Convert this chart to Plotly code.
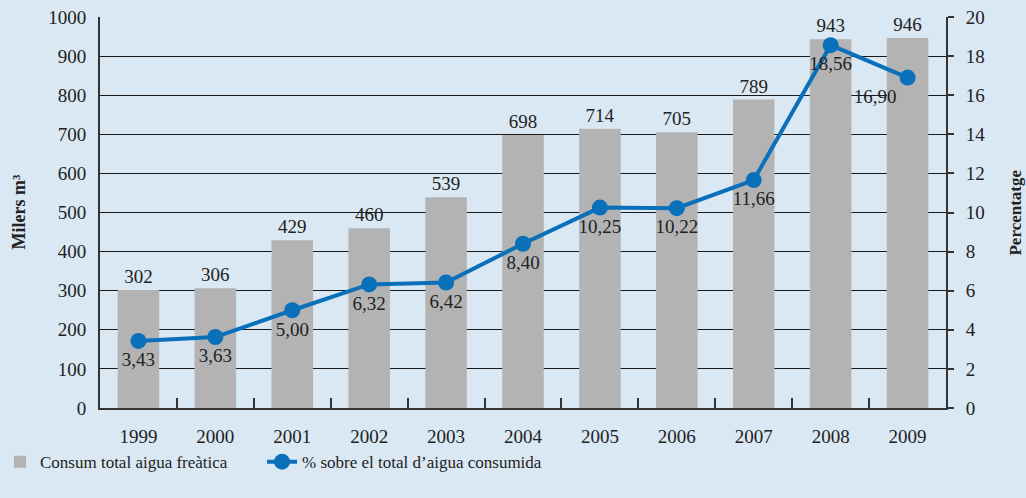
import plotly.graph_objects as go

years = ["1999", "2000", "2001", "2002", "2003", "2004", "2005", "2006", "2007", "2008", "2009"]
consum = [302, 306, 429, 460, 539, 698, 714, 705, 789, 943, 946]
percent = [3.43, 3.63, 5.00, 6.32, 6.42, 8.40, 10.25, 10.22, 11.66, 18.56, 16.90]
percent_labels = [f"{v:.2f}".replace(".", ",") for v in percent]
left_ticks = list(range(0, 1001, 100))
right_ticks = list(range(0, 21, 2))

BG = "#dae8f3"
FONT = "Liberation Serif"
TXT = "#222222"
NUM = 19

fig = go.Figure()
fig.add_trace(go.Bar(
    x=years, y=consum, name="Consum total aigua freàtica",
    marker=dict(color="#b3b3b3", line=dict(width=0)),
    width=0.54,
    text=[str(v) for v in consum], textposition="outside",
    textfont=dict(family=FONT, size=NUM, color=TXT),
    cliponaxis=False, legend="legend",
))
pos = ["bottom center"] * 10 + ["bottom left"]
fig.add_trace(go.Scatter(
    x=years, y=percent, yaxis="y2", name="% sobre el total d’aigua consumida",
    mode="lines+markers+text",
    line=dict(color="#0a70ba", width=4),
    marker=dict(color="#0a70ba", size=16),
    text=percent_labels, textposition=pos,
    textfont=dict(family=FONT, size=NUM, color=TXT),
    cliponaxis=False, legend="legend2",
))

leg_common = dict(orientation="h", xref="container", yref="container", y=0.072,
                  xanchor="left", yanchor="middle",
                  bgcolor="rgba(0,0,0,0)", font=dict(family=FONT, size=17, color=TXT))

fig.update_layout(
    width=1026, height=498,
    paper_bgcolor=BG, plot_bgcolor=BG,
    margin=dict(l=100, r=80, t=17, b=90),
    font=dict(family=FONT, size=NUM, color=TXT),
    showlegend=True,
    legend=dict(x=0.0, **leg_common),
    legend2=dict(x=0.2554, **leg_common),
    xaxis=dict(
        type="category", range=[-0.5, 10.5], automargin=False,
        showline=True, linecolor="#333333", linewidth=2,
        ticks="inside", tickson="boundaries", ticklen=10, tickcolor="#333333", tickwidth=1.5,
        showgrid=False, tickfont=dict(family=FONT, size=NUM, color=TXT),
        ticklabelstandoff=10,
    ),
    yaxis=dict(
        range=[0, 1000], tickvals=left_ticks, automargin=False,
        showline=True, linecolor="#333333", linewidth=2,
        showgrid=True, gridcolor="#1a1a1a", gridwidth=1,
        zeroline=False, ticks="", ticklabelstandoff=8,
        tickfont=dict(family=FONT, size=NUM, color=TXT),
    ),
    yaxis2=dict(
        range=[0, 20], tickvals=right_ticks, overlaying="y", side="right", automargin=False,
        showline=True, linecolor="#333333", linewidth=2,
        showgrid=False, zeroline=False,
        ticks="outside", ticklen=6, tickcolor="#333333", tickwidth=1.5,
        ticklabelstandoff=8,
        tickfont=dict(family=FONT, size=NUM, color=TXT),
    ),
    annotations=[
        dict(text="<b>Milers m³</b>", xref="paper", yref="paper", x=-0.0969, y=0.5,
             textangle=-90, showarrow=False, xanchor="center", yanchor="middle",
             font=dict(family=FONT, size=18, color=TXT)),
        dict(text="<b>Percentatge</b>", xref="paper", yref="paper", x=1.0816, y=0.5,
             textangle=-90, showarrow=False, xanchor="center", yanchor="middle",
             font=dict(family=FONT, size=17, color=TXT)),
    ],
)

fig.write_html("out.html",
               config={"displayModeBar": False},
               post_script="document.body.style.margin='0';document.body.style.overflow='hidden';"
                           "document.body.style.background='#dae8f3';")
